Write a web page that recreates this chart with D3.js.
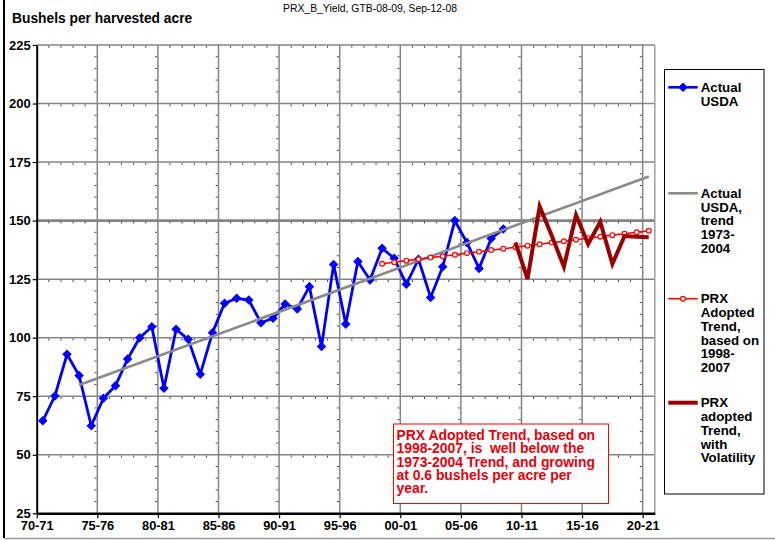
<!DOCTYPE html>
<html>
<head>
<meta charset="utf-8">
<script src="https://cdn.jsdelivr.net/npm/d3@7"></script>
<style>
  html, body { margin: 0; padding: 0; background: #fff; }
  svg text { font-family: "Liberation Sans", Arial, sans-serif; }
</style>
</head>
<body>
<svg id="chart" width="775" height="540"></svg>
<script>
// ---------- DATA ----------
const usdaYears = d3.range(1970, 2009);
const usdaValues = [64.5, 75.1, 92.9, 83.8, 62.4, 74.1, 79.5, 90.9, 100.0, 104.7,
  78.4, 103.6, 99.3, 84.4, 102.1, 114.7, 116.8, 116.1, 106.4, 108.3,
  114.4, 112.3, 121.8, 96.2, 131.3, 105.8, 132.5, 124.6, 138.2, 133.9,
  122.8, 133.5, 117.2, 130.3, 150.0, 140.6, 129.6, 142.4, 146.4];

const trend7304Years = [1973, 2020];
const trend7304Values = [79.8, 168.8];

const prxTrendYears = d3.range(1998, 2021);
const prxTrendValues = [131.6, 132.2, 132.9, 133.5, 134.2, 134.8, 135.4, 136.1, 136.7, 137.4,
  138.0, 138.6, 139.3, 139.9, 140.6, 141.2, 141.8, 142.5, 143.1, 143.8, 144.4, 145.0, 145.7];

const volYears = d3.range(2009, 2021);
const volValues = [140.7, 125.1, 156.0, 143.5, 130.3, 152.4, 140.0, 149.5, 131.5, 143.4, 143.1, 142.9];

const xTickYears = [1970, 1975, 1980, 1985, 1990, 1995, 2000, 2005, 2010, 2015, 2020];
const xTickLabels = ["70-71", "75-76", "80-81", "85-86", "90-91", "95-96", "00-01", "05-06", "10-11", "15-16", "20-21"];
const yTicks = [25, 50, 75, 100, 125, 150, 175, 200, 225];

const legendLabels = [
  ["Actual", "USDA"],
  ["Actual", "USDA,", "trend", "1973-", "2004"],
  ["PRX", "Adopted", "Trend,", "based on", "1998-", "2007"],
  ["PRX", "adopted", "Trend,", "with", "Volatility"]
];
const noteLines = ["PRX Adopted Trend, based on", "1998-2007, is  well below the",
  "1973-2004 Trend, and growing", "at 0.6 bushels per acre per", "year."];
const titleText = "Bushels per harvested acre";
const subTitleText = "PRX_B_Yield, GTB-08-09, Sep-12-08";

// ---------- LAYOUT ----------
const svg = d3.select("#chart");
const L = 36.7, R = 654.8, T = 45, B = 513.3;
const x = d3.scaleLinear().domain([1970, 2021]).range([L, R]);
const y = d3.scaleLinear().domain([25, 225]).range([B, T]);
const xc = yr => x(yr + 0.5);

// chart area borders
svg.append("line").attr("x1", 4).attr("x2", 4).attr("y1", 0).attr("y2", 538)
  .attr("stroke", "#000").attr("stroke-width", 2);
svg.append("line").attr("x1", 4).attr("x2", 775).attr("y1", 538.5).attr("y2", 538.5)
  .attr("stroke", "#999").attr("stroke-width", 1.5);

// titles
svg.append("text").attr("x", 12).attr("y", 23).attr("font-size", 13.8).attr("font-weight", "bold")
  .text(titleText);
svg.append("text").attr("x", 283).attr("y", 12).attr("font-size", 10.4).text(subTitleText);

// gridlines
const grid = svg.append("g");
yTicks.filter(v => v > 25).forEach(v => {
  grid.append("line").attr("x1", L).attr("x2", R).attr("y1", y(v)).attr("y2", y(v))
    .attr("stroke", "#858585").attr("stroke-width", v === 150 ? 2.6 : 1.5);
});
xTickYears.filter(v => v > 1970).forEach(v => {
  grid.append("line").attr("x1", x(v)).attr("x2", x(v)).attr("y1", T).attr("y2", B)
    .attr("stroke", "#858585").attr("stroke-width", 1.5);
});
// right plot border
grid.append("line").attr("x1", R).attr("x2", R).attr("y1", T).attr("y2", B)
  .attr("stroke", "#a0a0a0").attr("stroke-width", 1.5);

// minor tick marks along gridlines
const minor = svg.append("g").attr("stroke", "#444").attr("stroke-width", 1);
yTicks.filter(v => v > 25).forEach(v => {
  d3.range(1971, 2021).filter(yr => (yr - 1970) % 5 !== 0).forEach(yr => {
    minor.append("line").attr("x1", x(yr)).attr("x2", x(yr))
      .attr("y1", y(v) + 0.8).attr("y2", y(v) + 2.8);
  });
});
xTickYears.filter(v => v > 1970).forEach(v => {
  d3.range(30, 225, 5).filter(k => k % 25 !== 0).forEach(k => {
    minor.append("line").attr("x1", x(v) - 0.8).attr("x2", x(v) - 2.8)
      .attr("y1", y(k)).attr("y2", y(k));
  });
});

// axes
const yAxis = d3.axisLeft(y).tickValues(yTicks).tickSize(4).tickSizeOuter(0).tickPadding(2);
const gy = svg.append("g").attr("transform", `translate(${L},0)`).call(yAxis);
gy.select(".domain").attr("stroke", "#000").attr("stroke-width", 2);
gy.selectAll(".tick line").attr("stroke", "#000").attr("stroke-width", 1.2);
gy.selectAll(".tick text").attr("font-size", 13).attr("font-weight", "bold").attr("fill", "#000")
  .attr("font-family", "Liberation Sans, Arial, sans-serif");

const xAxis = d3.axisBottom(x).tickValues(xTickYears).tickSize(5).tickSizeOuter(0)
  .tickFormat((d, i) => xTickLabels[i]).tickPadding(3);
const gx = svg.append("g").attr("transform", `translate(0,${B})`).call(xAxis);
gx.select(".domain").attr("stroke", "#000").attr("stroke-width", 2.6);
gx.selectAll(".tick line").attr("stroke", "#000").attr("stroke-width", 1.2);
gx.selectAll(".tick text").attr("font-size", 12.8).attr("font-weight", "bold").attr("fill", "#000")
  .attr("font-family", "Liberation Sans, Arial, sans-serif");

// series
const lineGen = d3.line().x(d => xc(d[0])).y(d => y(d[1]));
const trendData = trend7304Years.map((yr, i) => [yr, trend7304Values[i]]);
const usdaData = usdaYears.map((yr, i) => [yr, usdaValues[i]]);
const prxData = prxTrendYears.map((yr, i) => [yr, prxTrendValues[i]]);
const volData = volYears.map((yr, i) => [yr, volValues[i]]);

svg.append("path").datum(usdaData).attr("d", lineGen).attr("fill", "none")
  .attr("stroke", "#0000ff").attr("stroke-width", 2.8).attr("stroke-linejoin", "round");
const diamond = d3.symbol().type(d3.symbolDiamond2).size(58);
svg.append("g").selectAll("path").data(usdaData).join("path")
  .attr("d", diamond).attr("transform", d => `translate(${xc(d[0])},${y(d[1])})`)
  .attr("fill", "#0000ff");

svg.append("path").datum(trendData).attr("d", lineGen).attr("fill", "none")
  .attr("stroke", "#8a8a8a").attr("stroke-width", 2.6);

svg.append("path").datum(prxData).attr("d", lineGen).attr("fill", "none")
  .attr("stroke", "#ff0000").attr("stroke-width", 1.6);
svg.append("g").selectAll("circle").data(prxData).join("circle")
  .attr("cx", d => xc(d[0])).attr("cy", d => y(d[1])).attr("r", 2.4)
  .attr("fill", "#fff").attr("stroke", "#ff0000").attr("stroke-width", 1.2);

svg.append("path").datum(volData).attr("d", lineGen).attr("fill", "none")
  .attr("stroke", "#990000").attr("stroke-width", 4).attr("stroke-linejoin", "miter");

// annotation box
const note = svg.append("g");
note.append("rect").attr("x", 393.5).attr("y", 424).attr("width", 215).attr("height", 79.5)
  .attr("fill", "#fff").attr("stroke", "#ff0000").attr("stroke-width", 1);
noteLines.forEach((t, i) => {
  note.append("text").attr("x", 396.5).attr("y", 440.3 + i * 13.1)
    .attr("font-size", 13.9).attr("font-weight", "bold").attr("fill", "#e8000b")
    .style("white-space", "pre").attr("xml:space", "preserve").text(t);
});

// legend
const lg = svg.append("g");
lg.append("rect").attr("x", 664.5).attr("y", 69.5).attr("width", 99.5).attr("height", 424.5)
  .attr("fill", "#fff").attr("stroke", "#000").attr("stroke-width", 1);
const legY = [87.3, 193.3, 298.7, 402.7];
const legStyles = [
  { stroke: "#0000ff", w: 2.6 },
  { stroke: "#8a8a8a", w: 2.6 },
  { stroke: "#ff0000", w: 1.6 },
  { stroke: "#990000", w: 4 }
];
legY.forEach((ly, i) => {
  lg.append("line").attr("x1", 668.3).attr("x2", 697.7).attr("y1", ly).attr("y2", ly)
    .attr("stroke", legStyles[i].stroke).attr("stroke-width", legStyles[i].w);
  if (i === 0) {
    lg.append("path").attr("d", diamond).attr("transform", `translate(683,${ly})`).attr("fill", "#0000ff");
  }
  if (i === 2) {
    lg.append("circle").attr("cx", 683).attr("cy", ly).attr("r", 2.4)
      .attr("fill", "#fff").attr("stroke", "#ff0000").attr("stroke-width", 1.2);
  }
  legendLabels[i].forEach((t, j) => {
    lg.append("text").attr("x", 700.7).attr("y", ly + 4.4 + j * 13.8)
      .attr("font-size", 13.3).attr("font-weight", "bold").attr("fill", "#000").text(t);
  });
});
</script>
</body>
</html>
